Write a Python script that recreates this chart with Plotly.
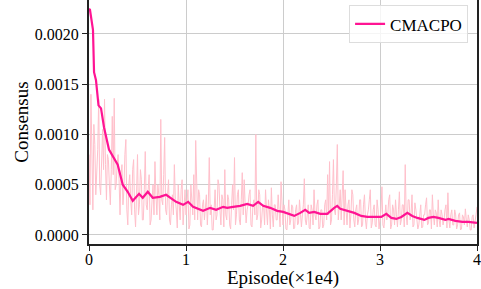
import plotly.graph_objects as go

# Smoothed curve (x in units of 1e4 episodes, values in units of 1e-4)
smooth_x = [0.000, 0.010, 0.041, 0.052, 0.072, 0.098, 0.124, 0.155, 0.206, 0.258,
            0.296, 0.348, 0.399, 0.451, 0.516, 0.554, 0.606, 0.657, 0.730, 0.795,
            0.836, 0.898, 0.970, 1.022, 1.073, 1.176, 1.249, 1.311, 1.383, 1.424,
            1.486, 1.558, 1.631, 1.692, 1.744, 1.796, 1.868, 1.940, 2.002, 2.074,
            2.116, 2.178, 2.229, 2.270, 2.322, 2.384, 2.456, 2.528, 2.559, 2.590,
            2.663, 2.735, 2.807, 2.869, 2.941, 3.013, 3.065, 3.117, 3.168, 3.220,
            3.282, 3.333, 3.385, 3.457, 3.499, 3.550, 3.602, 3.674, 3.705, 3.777,
            3.849, 3.911, 4.000]
smooth_e4 = [22.5, 22.4, 20.4, 16.2, 15.4, 12.9, 12.6, 10.7, 8.5, 7.7,
             7.0, 5.0, 4.3, 3.4, 4.1, 3.7, 4.3, 3.7, 3.8, 4.0,
             3.7, 3.3, 3.0, 3.3, 2.8, 2.4, 2.7, 2.5, 2.8, 2.7,
             2.8, 2.9, 3.1, 2.9, 3.3, 2.9, 2.7, 2.4, 2.3, 2.0,
             1.9, 2.2, 2.5, 2.2, 2.3, 2.1, 2.1, 2.7, 2.9, 2.6,
             2.4, 2.2, 1.9, 1.8, 1.8, 1.8, 2.1, 1.7, 1.6, 1.8,
             2.2, 1.9, 1.7, 1.5, 1.7, 1.8, 1.7, 1.5, 1.6, 1.4,
             1.3, 1.3, 1.2]

# Raw noisy curve, one value every 0.01 (x 1e4 episodes), units of 1e-4
raw_x = [i / 100 for i in range(401)]
raw_e4 = [
    8.0, 3.0, 14.0, 6.0, 2.5, 11.0, 9.0, 4.0, 6.0, 8.5, 13.5, 5.0, 4.0, 9.0, 10.5, 6.5, 13.5, 7.0, 3.5, 8.0,
    7.5, 5.0, 3.0, 6.5, 11.8, 6.0, 13.6, 4.5, 5.0, 7.0, 8.0, 5.5, 2.0, 6.0, 7.0, 3.0, 4.5, 8.0, 9.5, 2.5,
    1.0, 5.0, 6.0, 3.5, 2.0, 6.5, 7.5, 2.5, 0.8, 4.0, 8.0, 2.0, 3.0, 6.5, 5.5, 1.5, 1.5, 4.5, 8.3, 3.0,
    2.5, 4.5, 6.0, 1.0, 1.5, 3.5, 5.0, 2.0, 7.3, 4.0, 2.0, 5.0, 4.0, 1.5, 11.5, 3.5, 3.0, 6.0, 9.7, 2.5,
    2.0, 4.0, 5.5, 1.5, 1.0, 3.0, 4.0, 2.0, 7.0, 3.5, 2.5, 0.7, 5.0, 3.0, 1.5, 4.5, 5.5, 1.0, 3.0, 4.5,
    2.0, 3.5, 4.5, 0.6, 1.0, 5.0, 3.5, 2.0, 6.0, 1.5, 9.4, 3.0, 1.5, 4.5, 4.0, 1.0, 0.8, 3.0, 3.5, 1.5,
    2.5, 4.0, 1.0, 3.0, 7.7, 2.0, 3.0, 0.5, 0.5, 3.5, 4.5, 1.5, 2.0, 5.5, 5.0, 2.5, 1.0, 4.0, 3.5, 0.8,
    6.5, 2.0, 1.5, 4.0, 3.5, 1.0, 0.6, 3.0, 5.0, 2.5, 7.7, 1.0, 2.0, 4.0, 4.5, 1.5, 1.0, 3.5, 6.2, 2.0,
    5.5, 3.0, 1.2, 2.5, 3.0, 4.0, 4.5, 1.0, 0.8, 3.0, 3.5, 2.0, 10.0, 1.5, 2.0, 4.5, 4.0, 0.7, 1.5, 3.0,
    3.0, 1.0, 4.5, 2.5, 1.0, 3.5, 2.5, 0.6, 4.7, 2.0, 0.8, 3.0, 3.0, 1.5, 1.5, 4.0, 2.0, 0.8, 5.3, 2.5,
    1.0, 3.0, 2.5, 0.6, 0.5, 2.0, 3.5, 1.0, 1.5, 3.0, 2.8, 0.6, 0.7, 2.5, 3.0, 1.0, 1.2, 3.5, 2.5, 0.8,
    2.0, 3.0, 5.6, 1.5, 1.0, 2.5, 3.0, 0.7, 0.6, 3.0, 2.5, 1.0, 4.5, 2.0, 1.5, 3.0, 3.5, 0.6, 0.8, 2.5,
    2.5, 0.7, 1.0, 3.0, 3.5, 1.5, 6.0, 2.0, 7.3, 1.0, 1.5, 4.0, 7.5, 2.5, 2.0, 5.0, 9.0, 1.5, 3.0, 4.5,
    1.5, 3.5, 6.4, 1.0, 4.5, 2.5, 1.0, 3.0, 3.5, 0.7, 2.0, 4.5, 4.0, 1.5, 0.8, 2.5, 3.0, 1.0, 1.5, 3.5,
    3.5, 0.8, 1.0, 3.0, 4.0, 1.5, 0.6, 2.0, 2.5, 3.5, 4.5, 0.7, 1.2, 2.5, 3.0, 1.0, 0.8, 3.5, 2.5, 0.6,
    1.5, 2.5, 4.8, 1.0, 0.7, 2.5, 3.0, 1.5, 2.0, 3.5, 4.0, 0.6, 1.0, 3.0, 2.5, 1.0, 3.5, 2.0, 0.8, 2.5,
    4.3, 1.0, 1.5, 3.0, 3.0, 0.8, 7.0, 2.0, 1.0, 3.5, 3.5, 1.5, 2.0, 4.0, 0.8, 1.0, 3.2, 2.5, 1.5, 0.6,
    1.0, 2.5, 3.0, 0.7, 0.8, 2.0, 2.0, 3.0, 3.7, 1.0, 1.2, 2.5, 2.5, 0.6, 4.0, 2.0, 1.0, 2.5, 2.2, 0.8,
    3.5, 1.5, 0.8, 2.5, 2.0, 1.0, 1.5, 2.5, 3.0, 0.7, 4.2, 1.5, 0.7, 2.0, 2.5, 1.0, 1.0, 2.5, 2.0, 0.6,
    1.0, 2.0, 2.2, 0.5, 0.6, 2.0, 1.8, 1.0, 2.6, 1.5, 0.8, 2.0, 1.5, 0.5, 0.5, 1.8, 2.0, 0.7, 1.2, 2.0,
    2.8,
]

y_ticks = [0.0, 0.0005, 0.0010, 0.0015, 0.0020]
y_ticktext = ["0.0000", "0.0005", "0.0010", "0.0015", "0.0020"]
x_ticks = [0, 1, 2, 3, 4]
x_ticktext = ["0", "1", "2", "3", "4"]

raw_y = [v * 1e-4 for v in raw_e4]
smooth_y = [v * 1e-4 for v in smooth_e4]

FONT = "Liberation Serif, Times New Roman, serif"

fig = go.Figure()
fig.add_trace(go.Scatter(x=raw_x, y=raw_y, mode="lines",
                         line=dict(color="#FFC0CB", width=1),
                         showlegend=False, hoverinfo="skip"))
fig.add_trace(go.Scatter(x=smooth_x, y=smooth_y, mode="lines", name="CMACPO",
                         line=dict(color="#FF1493", width=2.2)))

fig.update_layout(
    width=481, height=289,
    margin=dict(l=89, r=4, t=0, b=45, autoexpand=False),
    paper_bgcolor="white", plot_bgcolor="white",
    font=dict(family=FONT, size=16, color="black"),
    legend=dict(x=0.977, y=0.978, xanchor="right", yanchor="top",
                bgcolor="rgba(255,255,255,0.8)", bordercolor="#dddddd",
                borderwidth=1, font=dict(size=17)),
)
fig.update_xaxes(range=[0, 4], tickvals=x_ticks, ticktext=x_ticktext,
                 showgrid=True, gridcolor="#cccccc", gridwidth=1,
                 showline=True, linecolor="#222222", linewidth=2,
                 ticks="outside", ticklen=5, tickcolor="#222222",
                 ticklabelstandoff=-5,
                 zeroline=False, automargin=False,
                 title=dict(text="Episode(×1e4)", standoff=4))
fig.update_yaxes(range=[-0.0000896, 0.002338], tickvals=y_ticks,
                 ticktext=y_ticktext,
                 showgrid=True, gridcolor="#cccccc", gridwidth=1,
                 showline=True, mirror=True, linecolor="#222222", linewidth=2,
                 ticks="outside", ticklen=5, tickcolor="#222222",
                 zeroline=False, automargin=False,
                 title=dict(text="Consensus", standoff=1))

fig.write_html("out.html", config={"displayModeBar": False},
               post_script="document.body.style.margin='0';document.body.style.padding='0';")
